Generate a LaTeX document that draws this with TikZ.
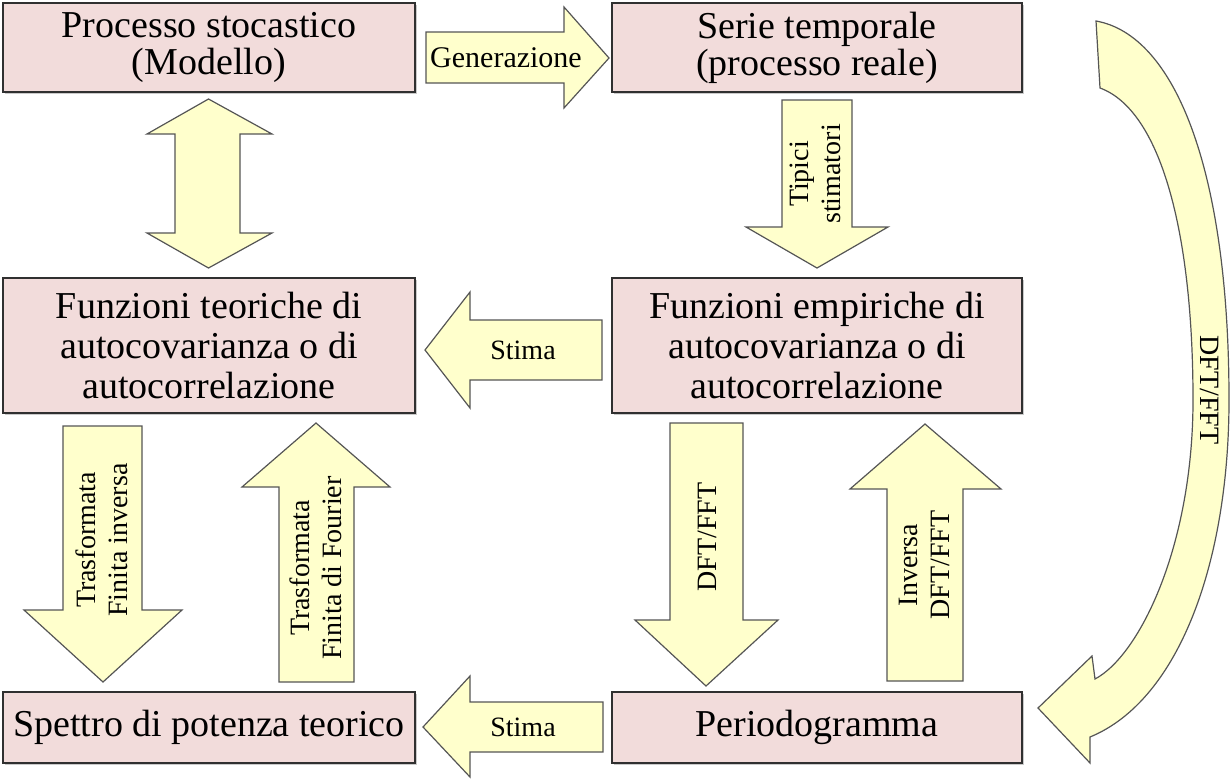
\documentclass[tikz,border=0pt]{standalone}
\usepackage{fontspec}
\setmainfont{Liberation Serif}
\usetikzlibrary{shadows}
\definecolor{boxfill}{HTML}{F2DCDB}
\definecolor{boxline}{HTML}{303030}
\definecolor{arrfill}{HTML}{FFFFCC}
\definecolor{arrline}{HTML}{555555}
\begin{document}
\begin{tikzpicture}[x=0.5pt,y=-0.5pt,
  box/.style={draw=boxline, line width=0.75pt, fill=boxfill, inner sep=0pt, align=center,
    font=\fontsize{19}{18.5}\selectfont,
    drop shadow={shadow xshift=0.9pt, shadow yshift=-0.9pt, opacity=0.35, fill=black!60}},
  box3/.style={box, font=\fontsize{19}{20}\selectfont},
  barrow/.style={draw=arrline, line width=0.6pt, fill=arrfill, line join=miter},
  lbl/.style={inner sep=0pt, align=center, font=\fontsize{14}{16}\selectfont}]
\useasboundingbox (0,0) rectangle (1231,778);

% boxes
\node[box, minimum width=206pt, minimum height=44.5pt] (b1) at (209,47.5) {Processo stocastico\\(Modello)};
\node[box, minimum width=205pt, minimum height=44.5pt] (b2) at (817,47.5) {Serie temporale\\(processo reale)};
\node[box3, minimum width=206pt, minimum height=67.5pt] (b3) at (209,345.5) {Funzioni teoriche di\\autocovarianza o di\\autocorrelazione};
\node[box3, minimum width=205pt, minimum height=67.5pt] (b4) at (817,345.5) {Funzioni empiriche di\\autocovarianza o di\\autocorrelazione};
\node[box, minimum width=206pt, minimum height=35.5pt] (b5) at (209,727.5) {Spettro di potenza teorico};
\node[box, minimum width=205pt, minimum height=35.5pt] (b6) at (817,727.5) {Periodogramma};

% Generazione (right)
\draw[barrow] (426,32) -- (564,32) -- (564,7) -- (609,58) -- (564,108) -- (564,83) -- (426,83) -- cycle;
\node[lbl, font=\fontsize{15}{16}\selectfont] (lgen) at (506,58) {Generazione};

% double vertical arrow
\draw[barrow] (175,134) -- (147,134) -- (208.5,99) -- (272,134) -- (240,134) -- (240,233)
  -- (272,233) -- (208.5,268) -- (147,233) -- (175,233) -- cycle;

% Tipici stimatori (down)
\draw[barrow] (782,100) -- (852,100) -- (852,227) -- (888,227) -- (817,268) -- (746,227) -- (782,227) -- cycle;
\node[lbl, rotate=90] (ltip) at (815,174) {Tipici\\stimatori};

% Stima middle (left)
\draw[barrow] (602,320) -- (470,320) -- (470,292) -- (425,350) -- (470,408) -- (470,380) -- (602,380) -- cycle;
\node[lbl] (lst1) at (523,350) {Stima};

% Trasformata Finita inversa (down)
\draw[barrow] (63,426) -- (142,426) -- (142,610) -- (182,610) -- (103,682) -- (24,610) -- (63,610) -- cycle;
\node[lbl, rotate=90] (linv) at (102,540) {Trasformata\\Finita inversa};

% Trasformata Finita di Fourier (up)
\draw[barrow] (279,682) -- (279,487) -- (242,487) -- (316,423) -- (390,487) -- (354,487) -- (354,682) -- cycle;
\node[lbl, rotate=90] (lfou) at (316,568) {Trasformata\\Finita di Fourier};

% DFT/FFT (down)
\draw[barrow] (670,423) -- (743,423) -- (743,620) -- (778,620) -- (706,686) -- (635,620) -- (670,620) -- cycle;
\node[lbl, rotate=90] (ldft) at (707,537) {DFT/FFT};

% Inversa DFT/FFT (up)
\draw[barrow] (887,681) -- (887,489) -- (850,489) -- (925,424) -- (1001,489) -- (963,489) -- (963,681) -- cycle;
\node[lbl, rotate=90] (linvd) at (924,565) {Inversa\\DFT/FFT};

% Stima bottom (left)
\draw[barrow] (603,702) -- (470,702) -- (470,676) -- (423,727) -- (470,777) -- (470,752) -- (603,752) -- cycle;
\node[lbl] (lst2) at (523,727) {Stima};

% curved arrow DFT/FFT
\draw[barrow] (1096,21) .. controls (1175,35) and (1229,170) .. (1229,400)
  .. controls (1229,560) and (1180,700) .. (1090,737)
  -- (1090,763) -- (1038,708) -- (1092,656) -- (1095,679)
  .. controls (1140,655) and (1193,545) .. (1193,400)
  .. controls (1193,230) and (1160,110) .. (1100,88) -- cycle;
\node[lbl, rotate=-90] (lcurve) at (1210,390) {DFT/FFT};
\end{tikzpicture}
\end{document}
